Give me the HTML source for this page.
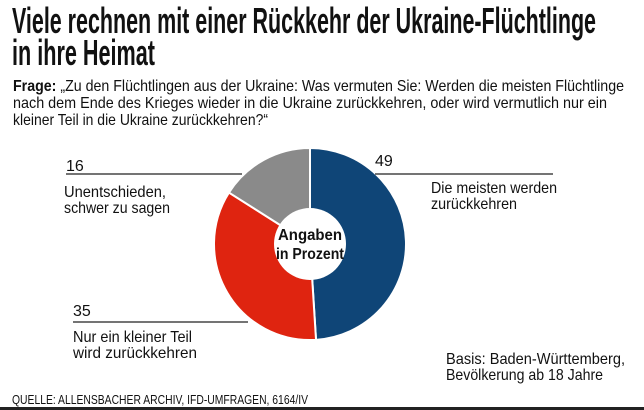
<!DOCTYPE html>
<html><head><meta charset="utf-8"><style>
body{margin:0;background:#fff;width:644px;height:410px;overflow:hidden;position:relative}
svg text{font-family:"Liberation Sans",sans-serif;fill:#111}
</style></head><body>
<svg width="644" height="410" style="position:absolute;left:0;top:0">
<g font-size="36" font-weight="bold">
<text x="12" y="33" textLength="584" lengthAdjust="spacingAndGlyphs">Viele rechnen mit einer Rückkehr der Ukraine-Flüchtlinge</text>
<text x="12" y="65" textLength="143" lengthAdjust="spacingAndGlyphs">in ihre Heimat</text>
</g>
<g font-size="16">
<text x="13" y="91" textLength="611" lengthAdjust="spacingAndGlyphs"><tspan font-weight="bold">Frage:</tspan> „Zu den Flüchtlingen aus der Ukraine: Was vermuten Sie: Werden die meisten Flüchtlinge</text>
<text x="13" y="108" textLength="594" lengthAdjust="spacingAndGlyphs">nach dem Ende des Krieges wieder in die Ukraine zurückkehren, oder wird vermutlich nur ein</text>
<text x="13" y="125" textLength="255" lengthAdjust="spacingAndGlyphs">kleiner Teil in die Ukraine zurückkehren?“</text>
</g>
<g id="slices"></g>
<circle cx="310" cy="244" r="36" fill="#fff"/>
<text x="310" y="240" text-anchor="middle" font-size="16" font-weight="bold" textLength="64" lengthAdjust="spacingAndGlyphs">Angaben</text>
<text x="310" y="259" text-anchor="middle" font-size="16" font-weight="bold" textLength="68" lengthAdjust="spacingAndGlyphs">in Prozent</text>
<line x1="66" y1="174" x2="242" y2="174" stroke="#222" stroke-width="1.2"/>
<line x1="375" y1="174" x2="553" y2="174" stroke="#222" stroke-width="1.2"/>
<line x1="73" y1="322" x2="248" y2="322" stroke="#222" stroke-width="1.2"/>
<text id="v2" x="66" y="171" font-size="16"></text>
<g font-size="16">
<text x="64" y="197" textLength="102" lengthAdjust="spacingAndGlyphs">Unentschieden,</text>
<text x="64" y="213" textLength="106" lengthAdjust="spacingAndGlyphs">schwer zu sagen</text>
</g>
<text id="v0" x="375" y="166" font-size="16"></text>
<g font-size="16">
<text x="431" y="193" textLength="126" lengthAdjust="spacingAndGlyphs">Die meisten werden</text>
<text x="431" y="209" textLength="86" lengthAdjust="spacingAndGlyphs">zurückkehren</text>
</g>
<text id="v1" x="73" y="316" font-size="16"></text>
<g font-size="16">
<text x="73" y="342" textLength="119" lengthAdjust="spacingAndGlyphs">Nur ein kleiner Teil</text>
<text x="73" y="358" textLength="124" lengthAdjust="spacingAndGlyphs">wird zurückkehren</text>
</g>
<g font-size="16">
<text x="446" y="364" textLength="179" lengthAdjust="spacingAndGlyphs">Basis: Baden-Württemberg,</text>
<text x="446" y="380" textLength="157" lengthAdjust="spacingAndGlyphs">Bevölkerung ab 18 Jahre</text>
</g>
<text x="12" y="404" font-size="12.5" textLength="296" lengthAdjust="spacingAndGlyphs">QUELLE: ALLENSBACHER ARCHIV, IFD-UMFRAGEN, 6164/IV</text>
<rect x="0" y="407" width="644" height="3" fill="#222"/>
</svg>
<script>
const categories=["Die meisten werden zurückkehren","Nur ein kleiner Teil wird zurückkehren","Unentschieden, schwer zu sagen"];
const values=[49,35,16];
const colors=["#0f4577","#df2410","#8a8a8a"];
const cx=310,cy=244,R=96;
const total=values.reduce((a,b)=>a+b,0);
const g=document.getElementById('slices');
let a0=0;
values.forEach((v,i)=>{
  const a1=a0+v/total*2*Math.PI;
  const x0=cx+R*Math.sin(a0),y0=cy-R*Math.cos(a0),x1=cx+R*Math.sin(a1),y1=cy-R*Math.cos(a1);
  const p=document.createElementNS('http://www.w3.org/2000/svg','path');
  p.setAttribute('d',`M${cx},${cy}L${x0},${y0}A${R},${R} 0 ${a1-a0>Math.PI?1:0} 1 ${x1},${y1}Z`);
  p.setAttribute('fill',colors[i]);p.setAttribute('stroke','#fff');p.setAttribute('stroke-width','2');
  
  
  g.appendChild(p);
  document.getElementById('v'+i).textContent=v;
  a0=a1;
});
</script>
</body></html>
